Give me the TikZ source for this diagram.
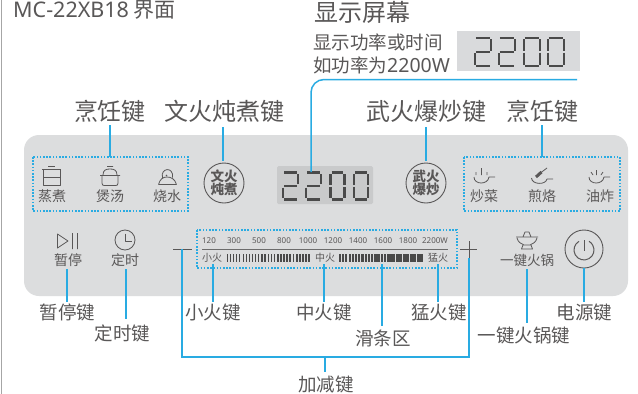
\documentclass[tikz,border=0pt]{standalone}
\usepackage{fontspec}
\setmainfont{Noto Sans CJK SC}
\newfontfamily\latinf{Noto Sans}
\definecolor{panel}{HTML}{DCDDDE}
\definecolor{disp}{HTML}{C9CACB}
\definecolor{dispb}{HTML}{D9DADC}
\definecolor{wire}{HTML}{29ABE2}
\definecolor{ink}{HTML}{595757}
\definecolor{seg}{HTML}{4A4A4A}
\newcommand{\fs}[1]{\fontsize{#1}{#1}\selectfont}
\newcommand{\segT}[5]{% x y w h thickness
 \draw[line width=#5,seg,line cap=butt] (#1+#5*0.4,#2) -- (#1+#3-#5*0.4,#2)
  (#1+#3,#2+#5*0.6) -- (#1+#3,#2+#4/2-#5*0.6)
  (#1+#5*0.4,#2+#4/2) -- (#1+#3-#5*0.4,#2+#4/2)
  (#1,#2+#4/2+#5*0.6) -- (#1,#2+#4-#5*0.6)
  (#1+#5*0.4,#2+#4) -- (#1+#3-#5*0.4,#2+#4);}
\newcommand{\segO}[5]{%
 \draw[line width=#5,seg,line cap=butt] (#1+#5*0.4,#2) -- (#1+#3-#5*0.4,#2)
  (#1+#3,#2+#5*0.6) -- (#1+#3,#2+#4/2-#5*0.3)
  (#1+#3,#2+#4/2+#5*0.3) -- (#1+#3,#2+#4-#5*0.6)
  (#1,#2+#5*0.6) -- (#1,#2+#4/2-#5*0.3)
  (#1,#2+#4/2+#5*0.3) -- (#1,#2+#4-#5*0.6)
  (#1+#5*0.4,#2+#4) -- (#1+#3-#5*0.4,#2+#4);}
\tikzset{
 x=1pt,y=-1pt,
 lab/.style={text=ink,inner sep=0pt,font=\fs{18.5}},
 big/.style={text=ink,inner sep=0pt,font=\fs{24}},
 key/.style={text=ink,inner sep=0pt,font=\fs{14}},
 num/.style={text=ink,inner sep=0pt,font=\latinf\fs{8}},
 tick/.style={text=ink,inner sep=0pt,font=\fs{10}},
 conn/.style={wire,line width=1.5pt},
 zone/.style={wire,line width=1.4pt,dash pattern=on 1.6pt off 1.6pt},
 icon/.style={draw=ink,line width=0.8pt,line join=round},
 ring/.style={draw=ink,line width=0.9pt,circle,minimum size=40pt,inner sep=0pt,align=center,text=ink,font=\fs{13.5}\bfseries},
}
\begin{document}
\begin{tikzpicture}
\useasboundingbox (0,0) rectangle (638,394);
\fill[white] (0,0) rectangle (638,394);
\draw[gray!70,line width=1pt] (1,0) -- (1,394);
% panel
\fill[panel,rounded corners=15pt] (24,135) rectangle (628,296);
% top display
\fill[dispb] (457,31) rectangle (580,71);
\segT{475}{38}{16}{28}{2.4}\segT{499}{38}{16}{28}{2.4}\segO{524}{38}{16}{28}{2.4}\segO{548}{38}{16}{28}{2.4}
% main display
\fill[disp,rounded corners=1.5pt] (277,166) rectangle (373,204);
\segT{283}{172.5}{15}{27}{2.6}\segT{306}{172.5}{15}{27}{2.6}\segO{330.5}{172.5}{14}{27}{2.6}\segO{354}{172.5}{14}{27}{2.6}
% titles
\node[text=ink,inner sep=0pt,anchor=west,font=\fs{21}] (title) at (13,10) {{\latinf\fs{21.5}MC-22XB18} 界面};
\node[big,anchor=west] (screen) at (314,12) {显示屏幕};
\node[lab,anchor=west] (d1) at (313,42) {显示功率或时间};
\node[lab,anchor=west] (d2) at (313,65) {如功率为{\latinf\fs{19.5}2200W}};
\node[big] (cookL) at (110,111) {烹饪键};
\node[big] (slow) at (224.5,111) {文火炖煮键};
\node[big] (fast) at (426,111) {武火爆炒键};
\node[big] (cookR) at (542,111) {烹饪键};
% dotted zones
\draw[zone] (33,157) rectangle (188,211);
\draw[zone] (464,157) rectangle (620,211);
\draw[zone] (197,230) rectangle (457,268);
\coordinate (zoneL) at (110,157);
\coordinate (zoneR) at (542,157);
% rings
\node[ring] (slowK) at (224,183) {文火\\[-0.5pt]炖煮};
\node[ring] (fastK) at (426,183) {武火\\[-0.5pt]爆炒};
\node[draw=ink,line width=0.9pt,circle,minimum size=38pt,inner sep=0pt] (power) at (584,249) {};
\draw[icon,line width=1pt] (579,241.3) arc (240:-60:10);
\draw[icon,line width=1pt] (584,240) -- (584,251);
% key texts
\node[key] (k1) at (52,196) {蒸煮};
\node[key] (k2) at (110,196) {煲汤};
\node[key] (k3) at (167,196) {烧水};
\node[key] (k4) at (484,196) {炒菜};
\node[key] (k5) at (542,196) {煎烙};
\node[key] (k6) at (600,196) {油炸};
\node[key] (k7) at (68,260) {暂停};
\node[key] (k8) at (125,260) {定时};
\node[key,font=\fs{13.5}] (k9) at (527,260) {一键火锅};
% steam pot
\draw[icon] (43,170) -- (43,185) -- (60,185) -- (60,170) (42,169.5) -- (61,169.5) (43,177.5) -- (60,177.5) (48,166.5) -- (55,166.5);
% soup pot
\draw[icon] (102,176) -- (102,183) .. controls (102,185) and (103,185.5) .. (104,185.5) -- (116,185.5) .. controls (117,185.5) and (118,185) .. (118,183) -- (118,176)
 (100,175.5) -- (120,175.5) (103,175) .. controls (103,170) and (106,169) .. (110,169) .. controls (114,169) and (117,170) .. (117,175) (107,166.5) -- (113,166.5);
% kettle
\draw[icon] (158.5,184.5) -- (176.5,184.5) (158.5,184.5) .. controls (160,179) and (163,177) .. (167,177) .. controls (171,177) and (175,179) .. (176.5,184.5)
 (162.5,177.5) .. controls (160,168) and (174,166) .. (172.5,177.5);
\fill[ink] (166.5,175.5) circle (0.9);
% play / pause
\draw[icon] (57.5,234) -- (68,241) -- (57.5,248) -- cycle (72.5,233) -- (72.5,249) (77.5,233) -- (77.5,249);
% clock
\draw[icon] (125,240) circle (10);
\draw[icon] (125,233.5) -- (125,241) -- (132,241);
% wok icons
\draw[icon] (474,177) .. controls (474,185) and (488,185) .. (489,177) -- (495,177)
 (476,172) -- (476,175) (481.5,168) -- (481.5,175) (487,172) -- (487,175);
\draw[icon] (531.5,178) .. controls (532,185) and (546,185) .. (547,179) -- (553,179);
\draw[icon,line width=3pt] (536,177) -- (541.5,172);
\draw[icon] (541,172.5) -- (547,168);
\draw[icon] (589,177) .. controls (589,185) and (603,185) .. (604,177) -- (610,177)
 (591,172) -- (593,175) (596.5,170) -- (596.5,175) (603,172) -- (601,175);
% hotpot icon
\draw[icon] (516,237) -- (538,237) (523,237) -- (525,232) -- (529,232) -- (531,237)
 (517,238) .. controls (518,242) and (521,244) .. (524,245) -- (530,245) .. controls (533,244) and (536,242) .. (537,238)
 (523,245) -- (521.5,249) -- (532.5,249) -- (531,245);
% plus minus
\coordinate (minusC) at (182,249);
\coordinate (plusC) at (469,258);
\draw[ink,line width=0.9pt] (173,249) -- (192,249) (460,249) -- (477,249) (469,241) -- (469,258);
% scale
\foreach \t/\px in {120/209,300/234,500/259,800/284,1000/308,1200/333,1400/358,1600/383,1800/408,2200W/435}{
 \node[num] (s\t) at (\px,241) {\t};}
\draw[gray!85!black,line width=0.9pt] (202,249) -- (448,249);
\node[tick] (lo) at (212,257.5) {小火};
\node[tick] (mid) at (325,257.5) {中火};
\node[tick] (hi) at (438,257.5) {猛火};
\foreach \i in {0,...,26}{
 \pgfmathsetmacro\xx{227+\i*3.12}
 \pgfmathsetmacro\ww{0.5+\i*0.07}
 \fill[seg] (\xx,254) rectangle (\xx+\ww,262);}
\foreach \i in {0,...,15}{
 \pgfmathsetmacro\xx{339+\i*3.2}
 \pgfmathsetmacro\ww{2+\i*0.03}
 \fill[seg] (\xx,254) rectangle (\xx+\ww,262);}
\foreach \i in {0,...,4}{
 \pgfmathsetmacro\xx{389+\i*6.9}
 \fill[seg] (\xx,254) rectangle (\xx+6,262);}
% lower labels
\node[lab] (pause) at (67.5,312) {暂停键};
\node[lab] (timer) at (122.5,333) {定时键};
\node[lab] (lowL) at (213,312) {小火键};
\node[lab] (midL) at (324,312) {中火键};
\node[lab] (hiL) at (439,312) {猛火键};
\node[lab] (slide) at (383,338) {滑条区};
\node[lab] (pot) at (524,335) {一键火锅键};
\node[lab] (pwr) at (584.5,312) {电源键};
\node[lab] (addsub) at (326,384) {加减键};
% connectors
\coordinate (a1) at (110,125); \draw[conn] (a1) -- (zoneL);
\coordinate (a2) at (223,127); \coordinate (b2) at (223,161); \draw[conn] (a2) -- (b2);
\coordinate (a3) at (426,127); \coordinate (b3) at (426,161); \draw[conn] (a3) -- (b3);
\coordinate (a4) at (542,125); \draw[conn] (a4) -- (zoneR);
\coordinate (a5) at (577,79.5); \coordinate (b5) at (311,172);
\draw[conn,rounded corners=13pt] (a5) -- (311,79.5) -- (b5);
\coordinate (a6) at (67,269); \coordinate (b6) at (67,302); \draw[conn] (a6) -- (b6);
\coordinate (a7) at (126,269); \coordinate (b7) at (126,319); \draw[conn] (a7) -- (b7);
\coordinate (a8) at (213,264); \coordinate (b8) at (213,302); \draw[conn] (a8) -- (b8);
\coordinate (a9) at (324,264); \coordinate (b9) at (324,302); \draw[conn] (a9) -- (b9);
\coordinate (a10) at (382,264); \coordinate (b10) at (382,326); \draw[conn] (a10) -- (b10);
\coordinate (a11) at (438,264); \coordinate (b11) at (438,302); \draw[conn] (a11) -- (b11);
\coordinate (a12) at (527,269); \coordinate (b12) at (527,323); \draw[conn] (a12) -- (b12);
\coordinate (a13) at (584,268); \coordinate (b13) at (584,302); \draw[conn] (a13) -- (b13);
\coordinate (j1) at (182,357); \coordinate (j2) at (469,357); \coordinate (j3) at (325,357); \coordinate (j4) at (325,372);
\draw[conn,line cap=butt] (minusC) -- (j1) -- (j2) -- (plusC);
\draw[conn] (j3) -- (j4);
\end{tikzpicture}
\end{document}
